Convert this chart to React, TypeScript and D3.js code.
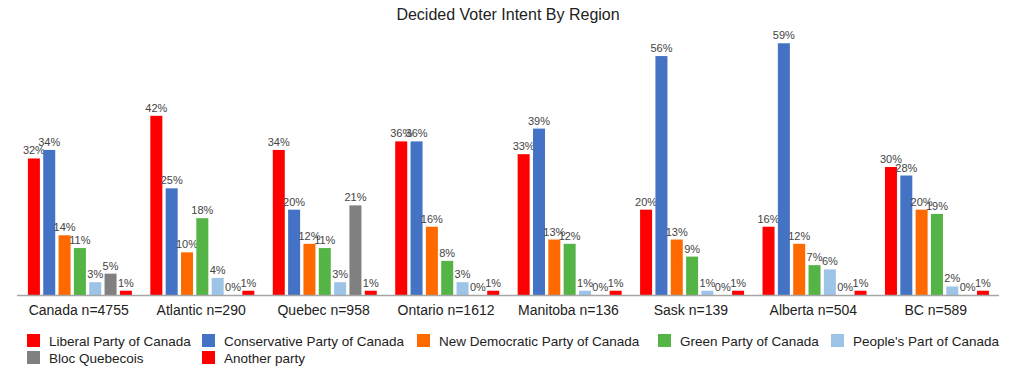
import React from "react";
import * as d3 from "d3";

const regions = [
  "Canada n=4755",
  "Atlantic n=290",
  "Quebec n=958",
  "Ontario n=1612",
  "Manitoba n=136",
  "Sask n=139",
  "Alberta n=504",
  "BC n=589",
];

const parties = [
  "Liberal Party of Canada",
  "Conservative Party of Canada",
  "New Democratic Party of Canada",
  "Green Party of Canada",
  "People's Part of Canada",
  "Bloc Quebecois",
  "Another party",
];

const partyColors = ["#ff0000", "#4472c4", "#ff6a00", "#55b446", "#9dc3e6", "#808080", "#ff0000"];

const liberal = [32, 42, 34, 36, 33, 20, 16, 30];
const conservative = [34, 25, 20, 36, 39, 56, 59, 28];
const ndp = [14, 10, 12, 16, 13, 13, 12, 20];
const green = [11, 18, 11, 8, 12, 9, 7, 19];
const peoples = [3, 4, 3, 3, 1, 1, 6, 2];
const bloc = [5, 0, 21, 0, 0, 0, 0, 0];
const another = [1, 1, 1, 1, 1, 1, 1, 1];

const series = [liberal, conservative, ndp, green, peoples, bloc, another];

const title = "Decided Voter Intent By Region";

const W = 1021;
const H = 375;
const FONT = "'Liberation Sans', Arial, Helvetica, sans-serif";

// legend layout (column x positions, row y positions)
const legendCols = [27, 202, 417, 658, 831];
const legendRows = [334, 351];

export default function App() {
  const x0 = d3.scaleBand<string>().domain(regions).range([17.5, 997]).padding(0);
  const x1 = d3
    .scaleBand<number>()
    .domain(d3.range(parties.length))
    .range([10.4, 114.4])
    .paddingInner(0.217)
    .paddingOuter(0);
  const y = d3.scaleLinear().domain([0, 60]).range([295, 39]);

  return (
    <svg
      width={W}
      height={H}
      style={{ position: "absolute", left: 0, top: 0, background: "#fff" }}
      fontFamily={FONT}
    >
      <text x={508} y={20} textAnchor="middle" fontSize={16} fill="#222">
        {title}
      </text>

      {regions.map((r, ri) => (
        <g key={r} transform={`translate(${x0(r)},0)`}>
          {series.map((vals, pi) => {
            const v = vals[ri];
            const bx = x1(pi)!;
            const bw = x1.bandwidth();
            return (
              <g key={pi}>
                {v > 0 && (
                  <rect x={bx} y={y(v)} width={bw} height={y(0) - y(v)} fill={partyColors[pi]} />
                )}
                <text
                  x={bx + bw / 2}
                  y={y(v) - 4}
                  textAnchor="middle"
                  fontSize={11}
                  fill="#444"
                >
                  {`${v}%`}
                </text>
              </g>
            );
          })}
          <text x={x0.bandwidth() / 2} y={315} textAnchor="middle" fontSize={14} fill="#222">
            {r}
          </text>
        </g>
      ))}

      <line x1={17} x2={999} y1={y(0) + 0.5} y2={y(0) + 0.5} stroke="#a6a6a6" strokeWidth={1.5} />

      {parties.map((p, i) => {
        const col = i < 5 ? i : i - 5;
        const row = i < 5 ? 0 : 1;
        const lx = legendCols[col];
        const ly = legendRows[row];
        return (
          <g key={p}>
            <rect x={lx} y={ly} width={13} height={13} fill={partyColors[i]} />
            <text x={lx + 22} y={ly + 11.5} fontSize={13.5} fill="#222">
              {p}
            </text>
          </g>
        );
      })}
    </svg>
  );
}
